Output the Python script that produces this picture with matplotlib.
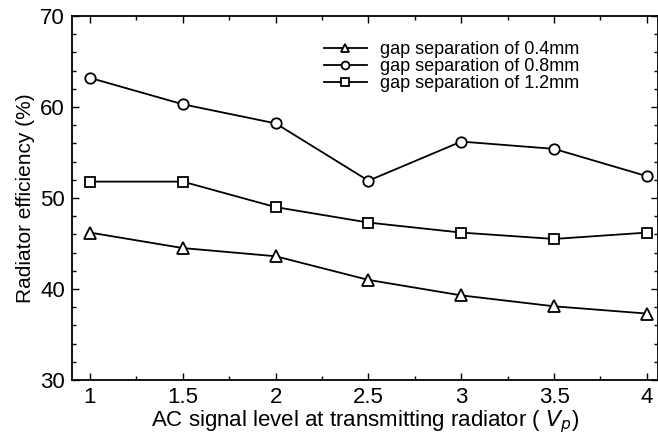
import matplotlib
matplotlib.use('Agg')
import matplotlib.pyplot as plt
from matplotlib.ticker import MultipleLocator

plt.rcParams['font.family'] = ['Liberation Sans', 'DejaVu Sans']

x = [1, 1.5, 2, 2.5, 3, 3.5, 4]
gap_04 = [46.2, 44.5, 43.6, 41.0, 39.3, 38.1, 37.3]
gap_08 = [63.2, 60.3, 58.2, 51.9, 56.2, 55.4, 52.4]
gap_12 = [51.8, 51.8, 49.0, 47.3, 46.2, 45.5, 46.2]
labels = ['gap separation of 0.4mm', 'gap separation of 0.8mm', 'gap separation of 1.2mm']

defaultDpi = 100
fig = plt.figure(figsize=(658/defaultDpi, 437/defaultDpi), dpi=defaultDpi)
ax = fig.add_axes([0.1094, 0.1304, 0.8906, 0.833])

style = dict(color='black', lw=1.3, mfc='white', mec='black', mew=1.3)
ax.plot(x, gap_04, marker='^', ms=8, label=labels[0], **style)
ax.plot(x, gap_08, marker='o', ms=7.5, label=labels[1], **style)
ax.plot(x, gap_12, marker='s', ms=7, label=labels[2], **style)

ax.set_xlim(0.903, 4.06)
ax.set_ylim(30, 70)
ax.set_xticks(x)
ax.set_xticklabels(['1', '1.5', '2', '2.5', '3', '3.5', '4'])
ax.set_yticks([30, 40, 50, 60, 70])
ax.xaxis.set_minor_locator(MultipleLocator(0.25))
ax.yaxis.set_minor_locator(MultipleLocator(2))
ax.tick_params(which='both', direction='in', top=True, right=True, labelsize=16, width=1)
ax.tick_params(which='major', length=5, pad=5)
ax.tick_params(which='minor', length=3)
for s in ax.spines.values():
    s.set_linewidth(1.3)

ax.set_xlabel('AC signal level at transmitting radiator ( $V_p$)', fontsize=16, labelpad=0)
ax.set_ylabel('Radiator efficiency (%)', fontsize=15, labelpad=4)

ax.legend(loc='upper right', bbox_to_anchor=(0.865, 0.93), frameon=False, fontsize=13,
          handlelength=2.4, handletextpad=0.7, labelspacing=0.0, borderaxespad=0,
          borderpad=0, markerscale=0.75)

plt.savefig('out.png', dpi=defaultDpi)
